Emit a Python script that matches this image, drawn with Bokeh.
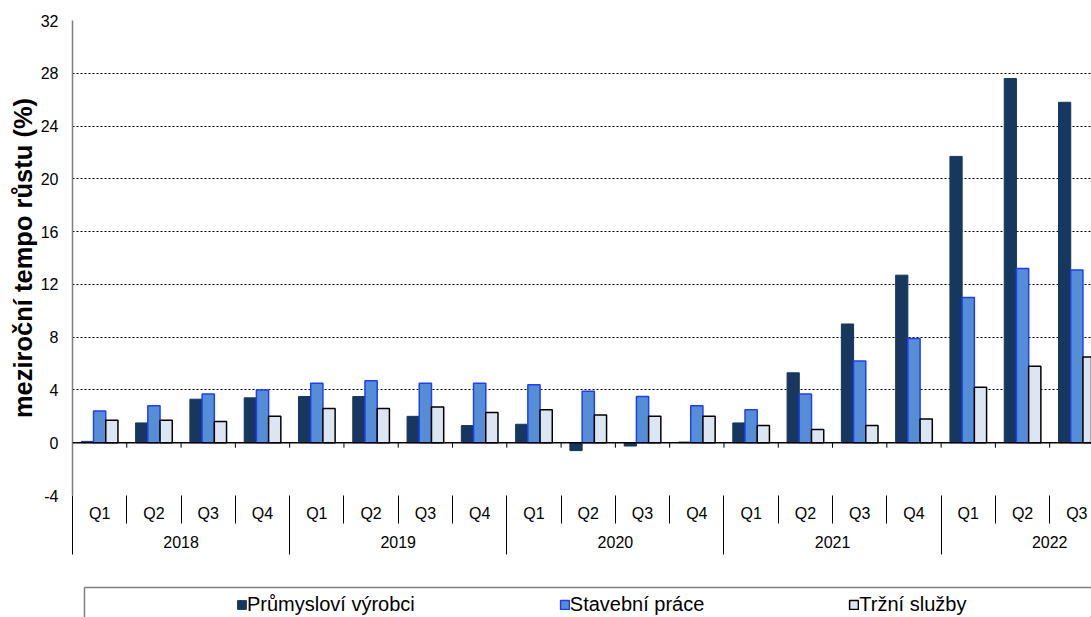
from bokeh.plotting import figure
from bokeh.models import (Range1d, FixedTicker, LinearAxis, Span, ColumnDataSource,
                          Legend, LegendItem)
from bokeh.layouts import column
from bokeh.embed import file_html
from bokeh.resources import INLINE

# ---- data ----
years = ["2018", "2019", "2020", "2021", "2022"]
quarters = ["Q1", "Q2", "Q3", "Q4", "Q1", "Q2", "Q3", "Q4", "Q1", "Q2", "Q3", "Q4",
            "Q1", "Q2", "Q3", "Q4", "Q1", "Q2", "Q3"]
prumysl = [0.1, 1.5, 3.3, 3.4, 3.5, 3.5, 2.0, 1.3, 1.4, -0.6, -0.25, 0.05,
           1.5, 5.3, 9.0, 12.7, 21.7, 27.6, 25.8]
stavebni = [2.4, 2.8, 3.7, 4.0, 4.5, 4.7, 4.5, 4.5, 4.4, 3.9, 3.5, 2.8,
            2.5, 3.7, 6.2, 7.9, 11.0, 13.2, 13.1]
trzni = [1.7, 1.7, 1.6, 2.0, 2.6, 2.6, 2.7, 2.3, 2.5, 2.1, 2.0, 2.0,
         1.3, 1.0, 1.3, 1.8, 4.2, 5.8, 6.5]
series_names = ["Průmysloví výrobci", "Stavební práce", "Tržní služby"]
y_title = "meziroční tempo růstu (%)"
y_ticks = list(range(-4, 33, 4))
y_labels = [str(v) for v in y_ticks]

FONT = "Liberation Sans"
TICK_FS = "16px"
n = len(quarters)
centers = [i + 0.5 for i in range(n)]
bounds = list(range(n + 1))
year_centers = [4 * k + 2 for k in range(len(years))]
year_bounds = [4 * k for k in range(len(years) + 1)]

src = ColumnDataSource(dict(
    x1=[c - 0.225 for c in centers], x2=centers, x3=[c + 0.225 for c in centers],
    a=prumysl, b=stavebni, c=trzni))

W = 1091
H1 = 583
LEFT = 72
p = figure(width=W, height=H1, x_range=Range1d(0, 18.77), y_range=Range1d(-4, 32),
           output_backend="svg", toolbar_location=None, x_axis_location=None,
           min_border_left=LEFT, min_border_right=0, min_border_top=20, min_border_bottom=88)
p.outline_line_color = None
p.background_fill_color = "white"
p.border_fill_color = "white"

# y axis
p.yaxis.ticker = FixedTicker(ticks=y_ticks)
p.yaxis.major_label_overrides = {t: l for t, l in zip(y_ticks, y_labels)}
p.yaxis.major_tick_out = 0
p.yaxis.major_tick_in = 0
p.yaxis.minor_tick_line_color = None
p.yaxis.axis_line_color = "#7f7f7f"
p.yaxis.axis_line_width = 1.5
p.yaxis.major_label_text_font = FONT
p.yaxis.major_label_text_font_size = TICK_FS
p.yaxis.major_label_text_color = "black"
p.yaxis.major_label_standoff = 14
p.yaxis.axis_label = y_title
p.yaxis.axis_label_text_font = FONT
p.yaxis.axis_label_text_font_size = "25.5px"
p.yaxis.axis_label_text_font_style = "bold"
p.yaxis.axis_label_text_color = "black"
p.yaxis.axis_label_standoff = 1

p.ygrid.ticker = FixedTicker(ticks=y_ticks)
p.ygrid.grid_line_color = "#000000"
p.ygrid.grid_line_dash = "2 2"
p.ygrid.grid_line_width = 1
p.xgrid.grid_line_color = None

# bars
p.vbar(x="x1", top="a", width=0.225, source=src, fill_color="#17375E", line_color="#17375E", line_width=1)
p.vbar(x="x2", top="b", width=0.225, source=src, fill_color="#558ED5", line_color="#1F3FF0", line_width=1.5)
p.vbar(x="x3", top="c", width=0.225, source=src, fill_color="#DCE6F2", line_color="#000000", line_width=1.5)

# zero axis line with small ticks
p.add_layout(Span(location=0, dimension="width", line_color="#000000", line_width=1.5))
p.segment(x0=bounds, y0=[0] * len(bounds), x1=bounds, y1=[-0.38] * len(bounds),
          line_color="#000000", line_width=1)

# quarter axis
qax = LinearAxis(ticker=FixedTicker(ticks=centers, minor_ticks=bounds),
                 major_label_overrides={c: q for c, q in zip(centers, quarters)})
qax.axis_line_color = None
qax.major_tick_line_color = None
qax.major_tick_out = 0
qax.major_tick_in = 0
qax.minor_tick_in = 0
qax.minor_tick_out = 28
qax.minor_tick_line_color = "#000000"
qax.minor_tick_line_width = 1
qax.major_label_text_font = FONT
qax.major_label_text_font_size = TICK_FS
qax.major_label_text_color = "black"
qax.major_label_standoff = -19
p.add_layout(qax, "below")

# year axis
yax = LinearAxis(ticker=FixedTicker(ticks=year_centers, minor_ticks=year_bounds),
                 major_label_overrides={c: y for c, y in zip(year_centers, years)})
yax.axis_line_color = None
yax.major_tick_line_color = None
yax.major_tick_out = 0
yax.major_tick_in = 0
yax.minor_tick_in = 27
yax.minor_tick_out = 30
yax.minor_tick_line_color = "#000000"
yax.minor_tick_line_width = 1
yax.major_label_text_font = FONT
yax.major_label_text_font_size = TICK_FS
yax.major_label_text_color = "black"
yax.major_label_standoff = -19
p.add_layout(yax, "below")

# legend strip (pixel-like data units: x from page left, y from page bottom)
H2 = 617 - H1
p2 = figure(width=W, height=H2, x_range=Range1d(LEFT, W), y_range=Range1d(0, H2),
            output_backend="svg", toolbar_location=None,
            x_axis_location=None, y_axis_location=None,
            min_border_left=LEFT, min_border_right=0, min_border_top=0, min_border_bottom=0)
p2.outline_line_color = None
p2.grid.grid_line_color = None
box_left, box_top = 84, H2 - 4
p2.segment(x0=[box_left, box_left], y0=[box_top, box_top], x1=[W + 5, box_left], y1=[box_top, -5],
           line_color="#7f7f7f", line_width=1.5)

hidden = ColumnDataSource(dict(x=[5000], top=[1]))
r1 = p2.vbar(x="x", top="top", width=1, source=hidden, fill_color="#17375E", line_color="#17375E")
r2 = p2.vbar(x="x", top="top", width=1, source=hidden, fill_color="#558ED5", line_color="#1F3FF0", line_width=1.5)
r3 = p2.vbar(x="x", top="top", width=1, source=hidden, fill_color="#DCE6F2", line_color="#000000", line_width=1.5)
legend = Legend(items=[LegendItem(label=series_names[0], renderers=[r1]),
                       LegendItem(label=series_names[1], renderers=[r2]),
                       LegendItem(label=series_names[2], renderers=[r3])],
                orientation="horizontal", location=(164, 1), spacing=144,
                glyph_width=11, glyph_height=11, label_standoff=0,
                label_text_font=FONT, label_text_font_size="20px", label_text_color="black",
                padding=0, margin=0, border_line_color=None, background_fill_alpha=0)
p2.add_layout(legend)

open("out.html", "w").write(file_html(column(p, p2), INLINE))
